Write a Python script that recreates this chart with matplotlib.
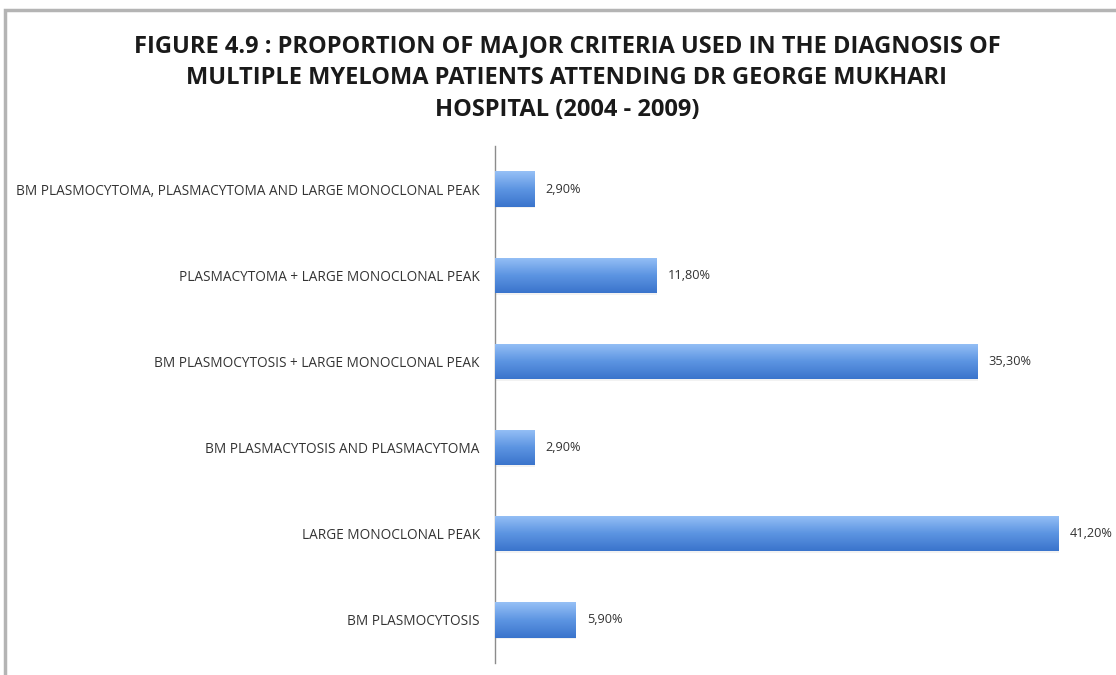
import numpy as np
import matplotlib
matplotlib.use('Agg')
import matplotlib.pyplot as plt
from matplotlib.colors import LinearSegmentedColormap
from matplotlib.patches import Rectangle

# criteria, bottom to top as drawn
criteria = [
    'BM PLASMOCYTOSIS',
    'LARGE MONOCLONAL PEAK',
    'BM PLASMACYTOSIS AND PLASMACYTOMA',
    'BM PLASMOCYTOSIS + LARGE MONOCLONAL PEAK',
    'PLASMACYTOMA + LARGE MONOCLONAL PEAK',
    'BM PLASMOCYTOMA, PLASMACYTOMA AND LARGE MONOCLONAL PEAK',
]
percent = [5.9, 41.2, 2.9, 35.3, 11.8, 2.9]
value_labels = ['5,90%', '41,20%', '2,90%', '35,30%', '11,80%', '2,90%']

title = ('FIGURE 4.9 : PROPORTION OF MAJOR CRITERIA USED IN THE DIAGNOSIS OF\n'
         'MULTIPLE MYELOMA PATIENTS ATTENDING DR GEORGE MUKHARI\n'
         'HOSPITAL (2004 - 2009)')

fam = ['Open Sans', 'DejaVu Sans']

fig = plt.figure(figsize=(11.16, 6.75), dpi=100)
fig.patch.set_facecolor('white')

# chart frame
fig.patches.append(Rectangle((5 / 1116, -0.1), 1.2, (675 - 10) / 675 + 0.1,
                             transform=fig.transFigure, fill=False,
                             edgecolor='#b4b4b4', linewidth=2.5, zorder=0))

ax = fig.add_axes([495 / 1116, 12 / 675, 621 / 1116, 517 / 675])
y = np.arange(len(criteria))
bars = ax.barh(y, percent, height=0.41, color='#5b8fdc', edgecolor='none', zorder=2)

# vertical shading on each bar
cmap = LinearSegmentedColormap.from_list('barfill', ['#3a74cc', '#5d95e2', '#96c0f6'])
grad = np.linspace(0, 1, 64).reshape(-1, 1)
for b in bars:
    x0, y0, w, h = b.get_x(), b.get_y(), b.get_width(), b.get_height()
    im = ax.imshow(grad, cmap=cmap, aspect='auto', origin='lower',
                   extent=(x0, x0 + w, y0, y0 + h), zorder=3)
    im.set_clip_path(b)
    # soft shadow under the bar
    ax.add_patch(Rectangle((x0 + 0.05, y0 - 0.02), w, h, facecolor='#000000',
                           alpha=0.05, edgecolor='none', zorder=1))

for v, lab, yi in zip(percent, value_labels, y):
    ax.annotate(lab, (v, yi), xytext=(8, 0), textcoords='offset points',
                ha='left', va='center', fontsize=9.2, family=fam, color='#333333')

ax.set_xlim(0, 621 / 13.67)
ax.set_ylim(-0.5, len(criteria) - 0.5)
ax.set_yticks(y)
ax.set_yticklabels(criteria, fontsize=9.8, family=fam, color='#333333')
ax.tick_params(axis='y', length=0, pad=11)
ax.set_xticks([])
for s in ['top', 'right', 'bottom']:
    ax.spines[s].set_visible(False)
ax.spines['left'].set_color('#8c8c8c')
ax.spines['left'].set_linewidth(1.0)
ax.set_facecolor('none')

fig.text(567 / 1116, 1 - 78 / 675, title, ha='center', va='center',
         fontsize=17, fontweight='bold', family=fam, color='#1a1a1a',
         linespacing=1.42)

fig.savefig('out.png', dpi=100)
